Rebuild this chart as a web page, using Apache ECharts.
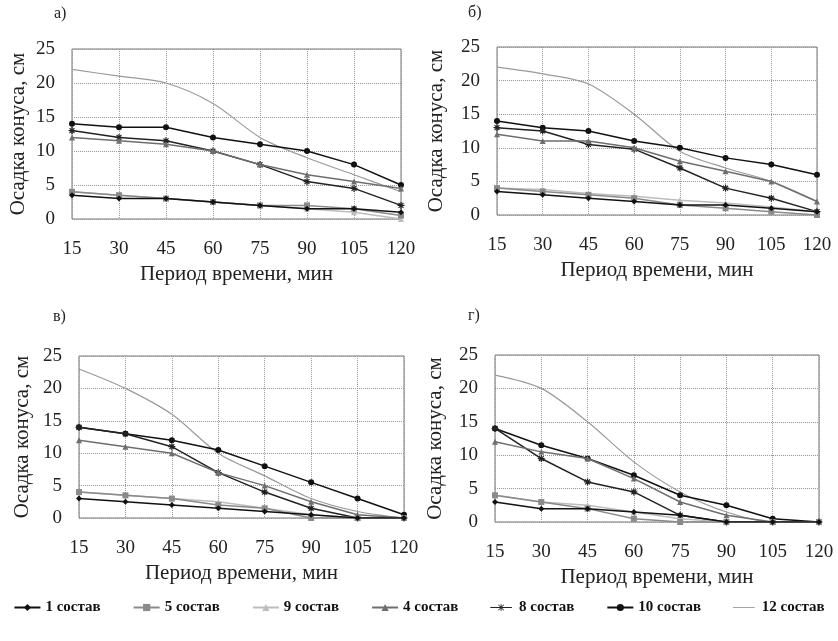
<!DOCTYPE html>
<html>
<head>
<meta charset="utf-8">
<script src="https://cdn.jsdelivr.net/npm/echarts@6/dist/echarts.min.js"></script>
<style>
html, body { margin: 0; padding: 0; background: #fff; }
#chart { width: 838px; height: 641px; }
</style>
</head>
<body>
<div id="chart"></div>
<script>
const minutes = ["15", "30", "45", "60", "75", "90", "105", "120"];
const yTicks = [0, 5, 10, 15, 20, 25];
const seriesNames = ["1 состав", "5 состав", "9 состав", "4 состав", "8 состав", "10 состав", "12 состав"];
const panelLabels = ["а)", "б)", "в)", "г)"];

// panel а)
const a1 = [3.5, 3, 3, 2.5, 2, 1.5, 1.5, 1];
const a5 = [4, 3.5, 3, 2.5, 2, 2, 1.5, 0.5];
const a9 = [4, 3.5, 3, 2.5, 2, 1.5, 1, 0];
const a4 = [12, 11.5, 11, 10, 8, 6.5, 5.5, 4.5];
const a8 = [13, 12, 11.5, 10, 8, 5.5, 4.5, 2];
const a10 = [14, 13.5, 13.5, 12, 11, 10, 8, 5];
const a12 = [22, 21, 20, 17, 12, 9, 6.5, 4];
// panel б)
const b1 = [3.5, 3, 2.5, 2, 1.5, 1.5, 1, 0.5];
const b5 = [4, 3.5, 3, 2.5, 1.5, 1, 0.5, 0];
const b9 = [4, 3.8, 3.2, 2.8, 2.2, 1.8, 1.2, 0.5];
const b4 = [12, 11, 11, 10, 8, 6.5, 5, 2];
const b8 = [13, 12.5, 10.5, 9.8, 7, 4, 2.5, 0.5];
const b10 = [14, 13, 12.5, 11, 10, 8.5, 7.5, 6];
const b12 = [22, 21, 19.5, 15, 9.5, 7, 5, 2];
// panel в)
const c1 = [3, 2.5, 2, 1.5, 1, 0.5, 0, 0];
const c5 = [4, 3.5, 3, 2, 1.5, 0, 0, 0];
const c9 = [4, 3.5, 3, 2.5, 1.5, 0.5, 0, 0];
const c4 = [12, 11, 10, 7, 5, 2.5, 0.5, 0];
const c8 = [14, 13, 11, 7, 4, 1.5, 0, 0];
const c10 = [14, 13, 12, 10.5, 8, 5.5, 3, 0.5];
const c12 = [23, 20, 16, 10, 6.5, 3, 1, 0];
// panel г)
const d1 = [3, 2, 2, 1.5, 1, 0, 0, 0];
const d5 = [4, 3, 2, 0.5, 0, 0, 0, 0];
const d9 = [4, 3, 2.5, 1.5, 0.5, 0, 0, 0];
const d4 = [12, 10.5, 9.5, 6.5, 3, 1, 0, 0];
const d8 = [14, 9.5, 6, 4.5, 1, 0, 0, 0];
const d10 = [14, 11.5, 9.5, 7, 4, 2.5, 0.5, 0];
const d12 = [22, 20, 15, 9, 4.5, 1.5, 0, 0];

const panels = [
    [a1, a5, a9, a4, a8, a10, a12],
    [b1, b5, b9, b4, b8, b10, b12],
    [c1, c5, c9, c4, c8, c10, c12],
    [d1, d5, d9, d4, d8, d10, d12],
];

const serif = "Liberation Serif";
const star = "path://M5,0L5,10M0,5L10,5M1.5,1.5L8.5,8.5M8.5,1.5L1.5,8.5";
// legend icons that the default line+symbol icon can't give
const starIcon = "path://M0,4.5h24v1h-24zM11.55,1h0.9v8h-0.9zM8.7,2.3L9.3,1.7L15.3,7.7L14.7,8.3zM14.7,1.7L15.3,2.3L9.3,8.3L8.7,7.7zM0,0M0,10";
const lineIcon = "path://M0,0M0,10M0,4.5h24v1h-24z";

// look of every series: colour, marker, size
const styles = [
    { color: "#111", symbol: "diamond", size: 6 },
    { color: "#8a8a8a", symbol: "rect", size: 6 },
    { color: "#bdbdbd", symbol: "triangle", size: 6 },
    { color: "#6e6e6e", symbol: "triangle", size: 6 },
    { color: "#222", symbol: star, size: 7 },
    { color: "#111", symbol: "circle", size: 6 },
    { color: "#9a9a9a", symbol: "none", size: 0 },
];

const grids = [
    { left: 72, top: 49, width: 329, height: 170 },
    { left: 497, top: 47, width: 320, height: 168 },
    { left: 79, top: 356, width: 325, height: 162 },
    { left: 495, top: 355, width: 324, height: 167 },
];
const yNameGap = [43, 50, 46, 49];
const labelPos = [[54, 6], [468, 5], [53, 309], [468, 308]];

const xAxis = i => ({
    gridIndex: i,
    type: "category",
    boundaryGap: false,
    data: minutes,
    name: "Период времени, мин",
    nameLocation: "middle",
    nameGap: 45,
    nameTextStyle: { fontFamily: serif, fontSize: 21, color: "#222" },
    axisLine: { show: false },
    axisTick: { show: false },
    axisLabel: { fontFamily: serif, fontSize: 19, color: "#222", margin: 21 },
    splitLine: { show: true, lineStyle: { color: "#999", type: "dotted" } },
});

const yAxis = i => ({
    gridIndex: i,
    type: "value",
    min: yTicks[0],
    max: yTicks[yTicks.length - 1],
    interval: 5,
    name: "Осадка конуса, см",
    nameLocation: "middle",
    nameGap: yNameGap[i],
    nameTextStyle: { fontFamily: serif, fontSize: 21, color: "#222" },
    axisLine: { show: false },
    axisTick: { show: false },
    axisLabel: { fontFamily: serif, fontSize: 19, color: "#222", margin: 17 },
    splitLine: { show: true, lineStyle: { color: "#999", type: "dotted" } },
});

const series = [];
panels.forEach((rows, p) => {
    rows.forEach((data, k) => {
        const s = styles[k];
        series.push({
            name: seriesNames[k],
            type: "line",
            xAxisIndex: p,
            yAxisIndex: p,
            data: data,
            smooth: k === 6 ? 0.3 : false,
            symbol: s.symbol,
            symbolSize: s.size,
            color: s.color,
            lineStyle: { color: s.color, width: k === 6 ? 1.2 : 1.5 },
            itemStyle: { color: s.color, borderColor: s.color, borderWidth: s.symbol === star ? 1.2 : 0 },
            z: 7 - k,
        });
    });
});

const legendData = seriesNames.map((n, k) => {
    if (k === 4) return { name: n, icon: starIcon, itemStyle: { borderWidth: 0 } };
    if (k === 6) return { name: n, icon: lineIcon };
    return { name: n };
});

const option = {
    backgroundColor: "#fff",
    animation: false,
    grid: grids.map(g => ({ ...g, show: true, borderColor: "#777", borderWidth: 1, backgroundColor: "transparent" })),
    xAxis: grids.map((g, i) => xAxis(i)),
    yAxis: grids.map((g, i) => yAxis(i)),
    graphic: panelLabels.map((t, i) => ({
        type: "text",
        left: labelPos[i][0],
        top: labelPos[i][1],
        style: { text: t, font: "16px " + serif, fill: "#222" },
    })),
    legend: {
        data: legendData,
        bottom: 21,
        left: "center",
        itemWidth: 26,
        itemHeight: 9,
        itemGap: 32,
        textStyle: { fontFamily: serif, fontSize: 15, fontWeight: "bold", color: "#111" },
    },
    series: series,
};

const graph = echarts.init(document.getElementById("chart"));
graph.setOption(option);
</script>
</body>
</html>
